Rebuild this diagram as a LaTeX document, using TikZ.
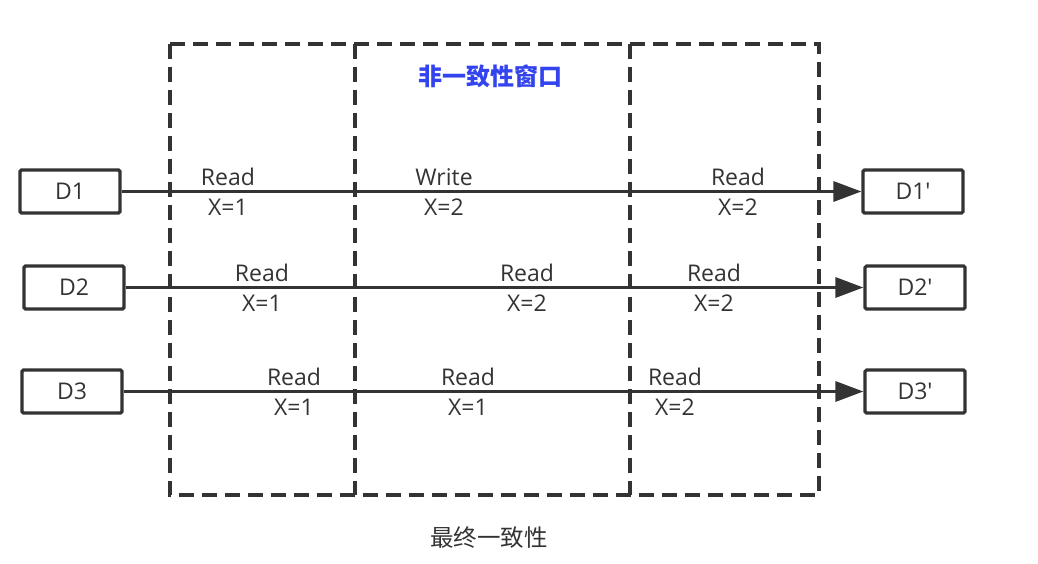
\documentclass[tikz,border=0pt]{standalone}
\usepackage{fontspec}
\setmainfont{Noto Sans CJK SC}
\newfontfamily\latinf{Open Sans}
\usetikzlibrary{arrows.meta}
\definecolor{ink}{HTML}{333333}
\definecolor{titleblue}{HTML}{3344EE}
\tikzset{
  dbox/.style={draw=ink, line width=3.2pt, rounded corners=1.5pt, minimum width=100pt, minimum height=43pt, inner sep=0pt, text=ink, font=\latinf\fontsize{23}{26}\selectfont},
  win/.style={draw=ink, line width=3.2pt, dash pattern=on 15pt off 8pt},
  flow/.style={draw=ink, line width=3.2pt, -{Triangle[length=28pt,width=20pt]}},
  lbl/.style={align=center, inner sep=0pt, text=ink, font=\latinf\fontsize{23}{30}\selectfont},
}
\begin{document}
\begin{tikzpicture}[x=1pt, y=-1pt]
\useasboundingbox (0,0) rectangle (1038,564);
% windows
\coordinate (wtl) at (170,44);
\coordinate (wbr) at (819,495);
\coordinate (m1t) at (355,44);
\coordinate (m1b) at (355,495);
\coordinate (m2t) at (630,44);
\coordinate (m2b) at (630,495);
\draw[win] (wtl) rectangle (wbr);
\draw[win] (m1t) -- (m1b);
\draw[win] (m2t) -- (m2b);
\node[font=\bfseries\fontsize{24}{27}\selectfont, text=titleblue] (title) at (490,76) {非一致性窗口};
\node[font=\fontsize{23.5}{27}\selectfont, text=ink] (bottom) at (489,538) {最终一致性};
% boxes
\node[dbox] (d1) at (70,191.5) {D1};
\node[dbox] (d1p) at (913,191.5) {D1\char"0027};
\node[dbox] (d2) at (74,287.5) {D2};
\node[dbox] (d2p) at (915,287.5) {D2\char"0027};
\node[dbox] (d3) at (72,391.5) {D3};
\node[dbox] (d3p) at (915,391.5) {D3\char"0027};
% flows
\draw[flow] (d1) -- (d1p);
\draw[flow] (d2) -- (d2p);
\draw[flow] (d3) -- (d3p);
% labels row 1
\node[lbl] (r1a) at (228,192) {Read\\X=1};
\node[lbl] (r1b) at (444,192) {Write\\X=2};
\node[lbl] (r1c) at (738,192) {Read\\X=2};
% labels row 2
\node[lbl] (r2a) at (262,288) {Read\\X=1};
\node[lbl] (r2b) at (527,288) {Read\\X=2};
\node[lbl] (r2c) at (714,288) {Read\\X=2};
% labels row 3
\node[lbl] (r3a) at (294,392) {Read\\X=1};
\node[lbl] (r3b) at (468,392) {Read\\X=1};
\node[lbl] (r3c) at (675,392) {Read\\X=2};
\end{tikzpicture}
\end{document}
